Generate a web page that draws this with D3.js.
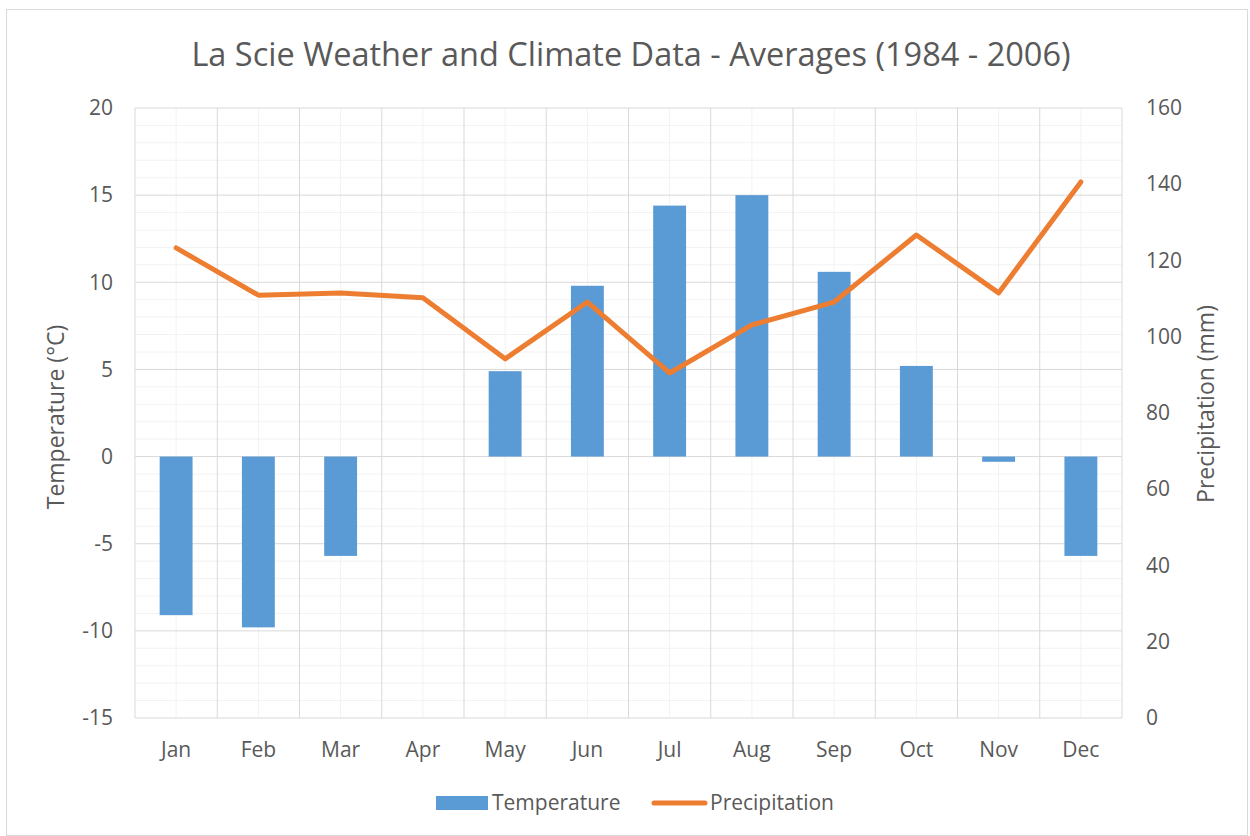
<!DOCTYPE html>
<html><head><meta charset="utf-8">
<script src="https://cdn.jsdelivr.net/npm/d3@7"></script>
<style>body{margin:0;background:#fff;}svg{display:block;font-family:"Open Sans","Noto Sans",sans-serif;}</style>
</head><body><svg id="c" width="1250" height="836"></svg>
<script>
const months = ["Jan","Feb","Mar","Apr","May","Jun","Jul","Aug","Sep","Oct","Nov","Dec"];
const temperature = [-9.1,-9.8,-5.7,0,4.9,9.8,14.4,15.0,10.6,5.2,-0.3,-5.7];
const precipitation = [123.3,110.9,111.5,110.2,94.2,109.1,90.5,103.1,109.1,126.7,111.5,140.6];
const leftTicks = [-15,-10,-5,0,5,10,15,20];
const rightTicks = [0,20,40,60,80,100,120,140,160];

const svg = d3.select("#c");
const L=135, R=1122, T=108, B=718;
const txt="#595959";
const ff='"Open Sans","Noto Sans",sans-serif';
svg.append("rect").attr("x",6.5).attr("y",9.5).attr("width",1241).attr("height",826).attr("fill","#fff").attr("stroke","#d9d9d9");

const x = d3.scaleBand().domain(months).range([L,R]).paddingInner(0).paddingOuter(0);
const y = d3.scaleLinear().domain([-15,20]).range([B,T]);
const y2 = d3.scaleLinear().domain([0,160]).range([B,T]);

const g = svg.append("g");
g.selectAll(".hmin").data(d3.range(-15,21,1).filter(v=>v%5!==0)).join("line")
 .attr("x1",L).attr("x2",R).attr("y1",d=>y(d)).attr("y2",d=>y(d)).attr("stroke","#f2f2f2").attr("stroke-width",1);
g.selectAll(".vmin").data(months).join("line")
 .attr("x1",d=>x(d)+x.bandwidth()/2).attr("x2",d=>x(d)+x.bandwidth()/2).attr("y1",T).attr("y2",B).attr("stroke","#f2f2f2");
g.selectAll(".hmaj").data(leftTicks).join("line")
 .attr("x1",L).attr("x2",R).attr("y1",d=>y(d)).attr("y2",d=>y(d)).attr("stroke","#d9d9d9");
g.selectAll(".vmaj").data(d3.range(0,13)).join("line")
 .attr("x1",i=>L+i*x.bandwidth()).attr("x2",i=>L+i*x.bandwidth()).attr("y1",T).attr("y2",B).attr("stroke","#d9d9d9");

const bw = x.bandwidth()*0.4;
svg.append("g").selectAll("rect").data(months.map((m,i)=>({m,v:temperature[i]}))).join("rect")
 .attr("x",d=>x(d.m)+x.bandwidth()/2-bw/2).attr("width",bw)
 .attr("y",d=>Math.min(y(d.v),y(0))).attr("height",d=>Math.abs(y(d.v)-y(0)))
 .attr("fill","#5b9bd5");

const line = d3.line().x((d,i)=>x(months[i])+x.bandwidth()/2).y(d=>y2(d));
svg.append("path").datum(precipitation).attr("d",line).attr("fill","none")
 .attr("stroke","#ed7d31").attr("stroke-width",5).attr("stroke-linecap","round").attr("stroke-linejoin","round");

const fs=21;
function style(a){
  a.attr("font-family",ff).attr("font-size",fs);
  a.select(".domain").remove();
  a.selectAll("text").attr("fill",txt);
}
const la = svg.append("g").attr("transform",`translate(${L},0)`).call(d3.axisLeft(y).tickValues(leftTicks).tickFormat(d=>String(d)).tickSize(0).tickPadding(22));
style(la);
const ra = svg.append("g").attr("transform",`translate(${R},0)`).call(d3.axisRight(y2).tickValues(rightTicks).tickFormat(d=>String(d)).tickSize(0).tickPadding(24));
style(ra);
const ba = svg.append("g").attr("transform",`translate(0,${B})`).call(d3.axisBottom(x).tickSize(0).tickPadding(24));
style(ba);

svg.append("text").attr("x",631).attr("y",66).attr("text-anchor","middle").attr("font-size",32.5).attr("fill",txt).text("La Scie Weather and Climate Data - Averages (1984 - 2006)");
svg.append("text").attr("transform",`translate(64,417) rotate(-90)`).attr("text-anchor","middle").attr("font-size",23).attr("fill",txt).text("Temperature (°C)");
svg.append("text").attr("transform",`translate(1214,404) rotate(-90)`).attr("text-anchor","middle").attr("font-size",23).attr("fill",txt).text("Precipitation (mm)");

svg.append("rect").attr("x",436).attr("y",796).attr("width",52).attr("height",14).attr("fill","#5b9bd5");
svg.append("text").attr("x",492).attr("y",810).attr("font-size",21).attr("fill",txt).text("Temperature");
svg.append("line").attr("x1",654).attr("x2",705).attr("y1",803).attr("y2",803).attr("stroke","#ed7d31").attr("stroke-width",5).attr("stroke-linecap","round");
svg.append("text").attr("x",710).attr("y",810).attr("font-size",21).attr("fill",txt).text("Precipitation");
</script></body></html>
